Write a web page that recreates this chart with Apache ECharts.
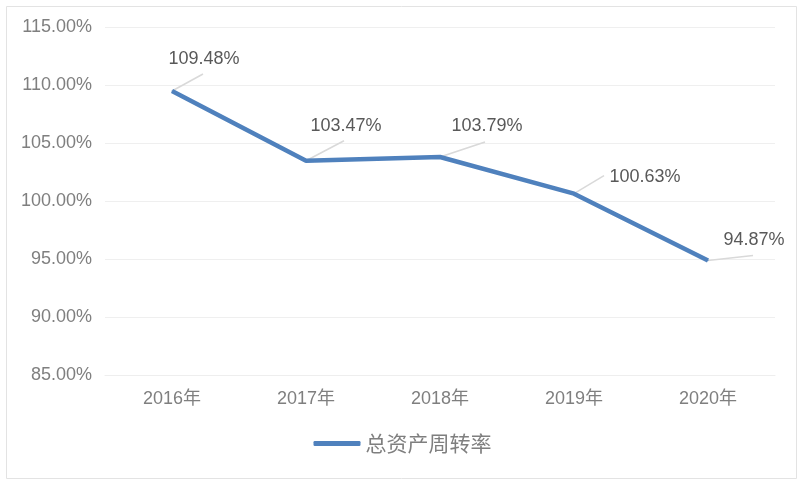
<!DOCTYPE html>
<html>
<head>
<meta charset="utf-8">
<script src="https://cdn.jsdelivr.net/npm/echarts@6/dist/echarts.min.js"></script>
<style>
html,body{margin:0;padding:0;background:#fff;}
#c{width:805px;height:489px;}
</style>
</head>
<body>
<div id="c"></div>
<script>
var categories = ['2016年', '2017年', '2018年', '2019年', '2020年'];
var seriesName = '总资产周转率';
var values = [109.48, 103.47, 103.79, 100.63, 94.87];
var yMin = 85, yMax = 115, yStep = 5;

// label placement (pixel offsets from each point) and leader line ends
var labelOffsets = [[32, -32], [40, -35], [47, -31], [71, -17], [46, -20]];
var leaderEnds = [[31, -17], [38, -20], [45, -15], [30, -18], [45, -5]];

var chart = echarts.init(document.getElementById('c'));
chart.setOption({
  animation: false,
  backgroundColor: '#fff',
  graphic: [{
    type: 'rect',
    shape: { x: 6.5, y: 6.5, width: 790, height: 472 },
    style: { fill: 'none', stroke: '#e3e3e3', lineWidth: 1 },
    silent: true
  }],
  grid: { left: 105, right: 30, top: 27, bottom: 114 },
  xAxis: {
    type: 'category',
    data: categories,
    boundaryGap: true,
    axisLine: { show: true, lineStyle: { color: '#eeeeee' } },
    axisTick: { show: false },
    axisLabel: { color: '#7f7f7f', fontSize: 18, fontFamily: 'Liberation Sans, Noto Sans CJK SC', margin: 15 }
  },
  yAxis: {
    type: 'value',
    min: yMin, max: yMax, interval: yStep,
    axisLine: { show: false },
    axisTick: { show: false },
    splitLine: { lineStyle: { color: '#efefef', width: 1 } },
    axisLabel: {
      color: '#7f7f7f', fontSize: 18, fontFamily: 'Liberation Sans', margin: 13,
      formatter: function (v) { return v.toFixed(2) + '%'; }
    }
  },
  legend: {
    bottom: 30,
    left: 'center',
    icon: 'roundRect',
    itemWidth: 47,
    itemHeight: 5,
    itemGap: 8,
    textStyle: { color: '#7f7f7f', fontSize: 21, fontFamily: 'Noto Sans CJK SC' },
    data: [seriesName]
  },
  series: [{
    name: 'leader',
    type: 'custom',
    z: 1,
    silent: true,
    data: values.map(function (v, i) { return [i, v]; }),
    renderItem: function (params, api) {
      var i = api.value(0);
      var p = api.coord([i, api.value(1)]);
      var e = leaderEnds[i];
      return {
        type: 'line',
        shape: { x1: p[0], y1: p[1], x2: p[0] + e[0], y2: p[1] + e[1] },
        style: { stroke: '#d9d9d9', lineWidth: 1.5 }
      };
    }
  }, {
    name: seriesName,
    type: 'line',
    z: 2,
    data: values,
    symbol: 'circle',
    symbolSize: 1,
    showSymbol: true,
    lineStyle: { color: '#4f81bd', width: 4.5 },
    itemStyle: { color: '#4f81bd' },
    label: {
      show: true,
      position: 'inside',
      color: '#595959',
      fontSize: 18,
      fontFamily: 'Liberation Sans',
      formatter: function (p) { return p.value.toFixed(2) + '%'; }
    },
    labelLayout: function (p) {
      var o = labelOffsets[p.dataIndex];
      return { dx: o[0], dy: o[1] };
    }
  }]
});
</script>
</body>
</html>
